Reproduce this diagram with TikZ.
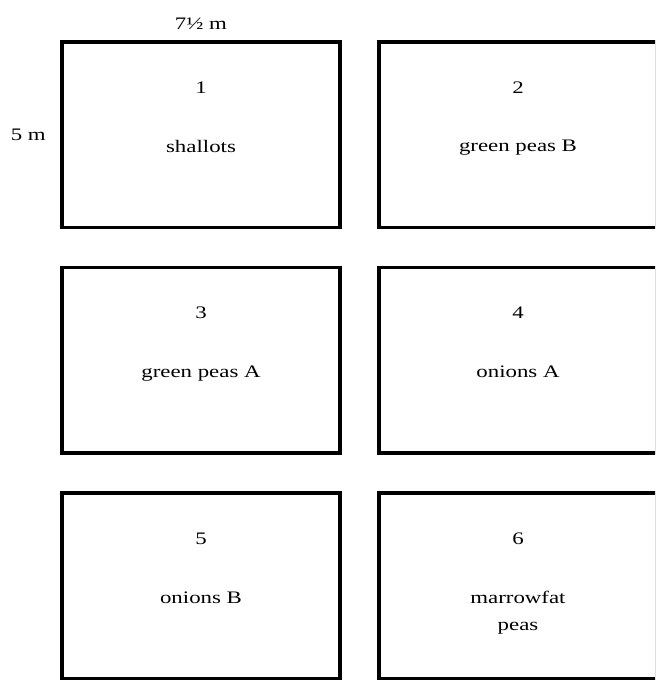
\documentclass[tikz,border=0pt]{standalone}
\usepackage{fontspec}
\setmainfont{Liberation Serif}[FakeStretch=1.3]
\usetikzlibrary{positioning}

\begin{document}
\begin{tikzpicture}[
  font=\fontsize{10}{15.3}\selectfont,
  bed/.style={rectangle, draw, line width=1.8pt, minimum width=5.56cm,
              minimum height=3.71cm, inner sep=0pt, outer sep=0pt},
  bednum/.style={anchor=north, inner sep=1pt},
  bedcrop/.style={anchor=north, inner sep=1pt, align=center},
]
\useasboundingbox (0,0) rectangle (13.1,-13.6);
\clip (0,0) rectangle (13.1,-13.6);

% ===== Beds =================================================================
\node[bed, anchor=north west] (bed1) at (1.24,-0.84) {};
\node[bed, right=0.78cm of bed1] (bed2) {};
\node[bed, below=0.8cm of bed1] (bed3) {};
\node[bed, right=0.78cm of bed3] (bed4) {};
\node[bed, below=0.8cm of bed3] (bed5) {};
\node[bed, right=0.78cm of bed5] (bed6) {};

% ===== Numbers and crops ====================================================
\foreach \i/\crop in {1/shallots, 2/green peas B, 3/green peas A,
                      4/onions A, 5/onions B, 6/{marrowfat\\peas}} {
  \node[bednum] (num\i) at ([yshift=1.1cm]bed\i.center) {\i};
  \node[bedcrop] (crop\i) at ([yshift=-0.07cm]bed\i.center) {\crop};
}

% ===== Dimensions ===========================================================
\node[above=0.12cm of bed1] (width) {7½ m};
\node[left=0.2cm of bed1] (height) {5 m};

\end{tikzpicture}
\end{document}
